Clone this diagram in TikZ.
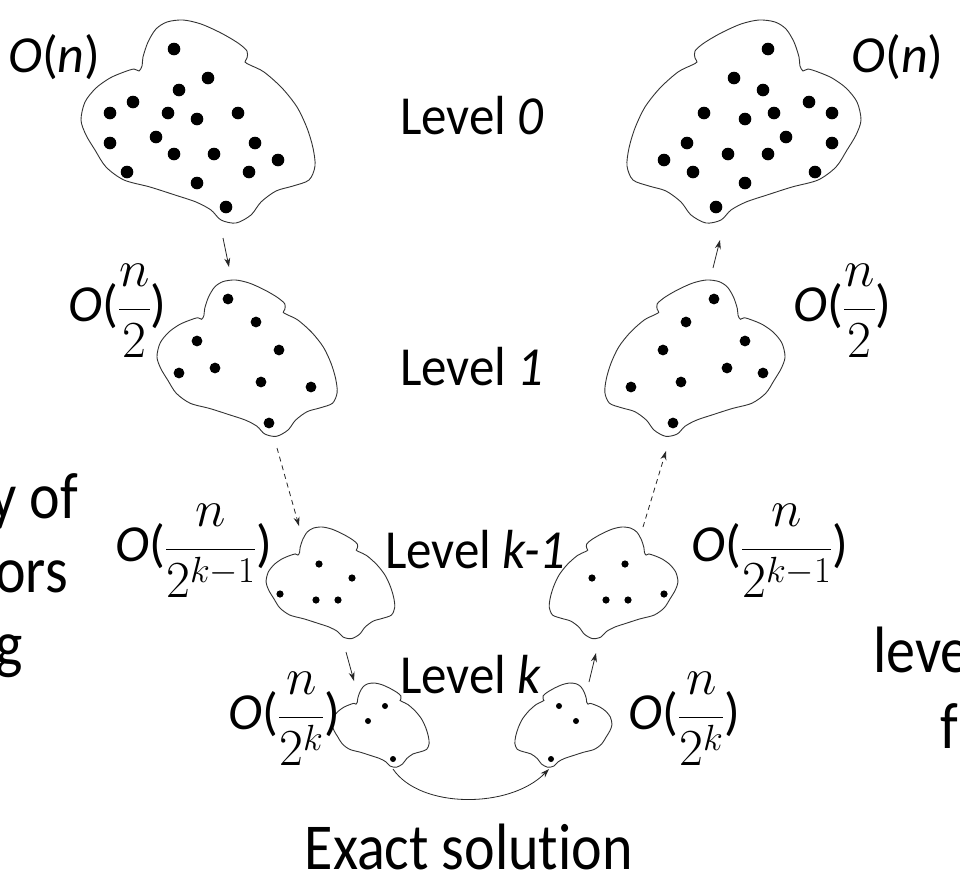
\documentclass[tikz,border=0pt]{standalone}
\usepackage{fix-cm}
\usepackage{fontspec}
\setmainfont{Carlito}[Ligatures=NoCommon]
\usetikzlibrary{arrows.meta}
\newcommand{\drawblob}[1]{\draw[blob,#1] plot[smooth cycle,tension=0.5] coordinates {(81,120) (85,102) (96,88) (110,78) (124,72) (134,69) (139,71) (142,66) (143,57) (148,42) (156,29) (167,22) (183,20) (201,24) (221,33) (238,43) (247,51) (247,58) (245,62) (250,65) (264,72) (282,88) (297,107) (307,128) (313,148) (315,166) (309,180) (293,186) (276,191) (261,202) (251,215) (236,223) (221,220) (211,210) (196,202) (175,195) (150,187) (124,180) (106,167) (95,150) (86,135)};}
\newcommand{\tallA}[1]{\scalebox{1}[1.08]{#1}}
\newcommand{\tallB}[1]{\scalebox{1}[1.13]{#1}}
\begin{document}
\begin{tikzpicture}[x=1pt,y=-1pt,
  blob/.style={draw=black!80,line width=0.9pt},
  arr/.style={draw=black!85,line width=0.8pt,-{Stealth[length=9pt,width=6pt]}},
  darr/.style={arr,dash pattern=on 5pt off 4pt},
  lvl/.style={font=\fontsize{51}{60}\selectfont,inner sep=0pt},
  olab/.style={font=\fontsize{52}{60}\selectfont,inner sep=0pt},
  big/.style={font=\fontsize{58}{70}\selectfont,inner sep=0pt}]
\fill[white] (0,0) rectangle (960,879);
\useasboundingbox (0,0) rectangle (960,879);
\clip (0,0) rectangle (960,879);
% blobs
\drawblob{}
\drawblob{shift={(942,0)},xscale=-1}
\drawblob{shift={(94.6,264.6)},scale=0.77}
\drawblob{shift={(847.4,264.6)},xscale=-0.77,yscale=0.77}
\drawblob{shift={(221.5,516)},scale=0.55}
\drawblob{shift={(722.5,516)},xscale=-0.55,yscale=0.55}
\drawblob{shift={(298.4,674.7)},scale=0.415}
\drawblob{shift={(645.6,674.7)},xscale=-0.415,yscale=0.415}
% dots level 0
\foreach \a/\b in {174/49,208/78,179/90,133/102,110/113,168/113,197/119,238/113,110/143,156/137,255/143,174/154,214/154,278/160,127/172,249/172,197/183,226/207}{
  \fill (\a,\b) circle (6.3pt);
  \fill (942-\a,\b) circle (6.3pt);}
% dots level 1
\foreach \a/\b in {228/299,256/322,197/341,279/350,179/373,215/368,261/382,311/387,269/423}{
  \fill (\a,\b) circle (5.4pt);
  \fill (942-\a,\b) circle (5.4pt);}
% dots level k-1
\foreach \a/\b in {319/564,352/578,280/594,316/600,338/600}{
  \fill (\a,\b) circle (3.6pt);
  \fill (944-\a,\b) circle (3.6pt);}
% dots level k
\foreach \a/\b in {385/706,368/721,393/759}{
  \fill (\a,\b) circle (3pt);
  \fill (944-\a,\b) circle (3pt);}
% arrows
\coordinate (a1s) at (223,238); \coordinate (a1e) at (229,267);
\coordinate (a2s) at (277,448); \coordinate (a2e) at (299,526);
\coordinate (a3s) at (346,652); \coordinate (a3e) at (354,681);
\coordinate (a4s) at (393,769); \coordinate (a4e) at (549,769);
\coordinate (a5s) at (589,682); \coordinate (a5e) at (596,653);
\coordinate (a6s) at (643,527); \coordinate (a6e) at (666,451);
\coordinate (a7s) at (713,268); \coordinate (a7e) at (720,240);
\draw[arr] (a1s) -- (a1e);
\draw[darr] (a2s) -- (a2e);
\draw[arr] (a3s) -- (a3e);
\draw[arr] (a4s) .. controls (420,809) and (510,809) .. (a4e);
\draw[arr] (a5s) -- (a5e);
\draw[darr] (a6s) -- (a6e);
\draw[arr] (a7s) -- (a7e);
% level labels
\node[lvl,anchor=base west] (L0) at (400,134) {\tallA{Level \textit{0}}};
\node[lvl,anchor=base west] (L1) at (400,385) {\tallA{Level \textit{1}}};
\node[lvl,anchor=base west] (Lk1) at (385,568) {\tallA{Level \textit{k-1}}};
\node[lvl,anchor=base west] (Lk) at (400,693) {\tallA{Level \textit{k}}};
% complexity labels
\node[olab,anchor=west] (o0L) at (8,57) {\textit{O}(\textit{n})};
\node[olab,anchor=west] (o0R) at (851,57) {\textit{O}(\textit{n})};
\node[olab,anchor=west] (o1L) at (68,311) {\textit{O}(${\displaystyle\frac{n}{2}}$)};
\node[olab,anchor=west] (o1R) at (793,311) {\textit{O}(${\displaystyle\frac{n}{2}}$)};
\node[olab,anchor=west] (ok1L) at (115,551) {\textit{O}(${\displaystyle\frac{n}{2^{k-1}}}$)};
\node[olab,anchor=west] (ok1R) at (691,551) {\textit{O}(${\displaystyle\frac{n}{2^{k-1}}}$)};
\node[olab,anchor=west] (okL) at (228,719) {\textit{O}(${\displaystyle\frac{n}{2^{k}}}$)};
\node[olab,anchor=west] (okR) at (628,719) {\textit{O}(${\displaystyle\frac{n}{2^{k}}}$)};
% bottom text
\node[big,anchor=base east] (ex) at (633,869) {\tallB{Exact solution}};
% cut-off side texts
\node[big,anchor=base east] (c1) at (78,518) {\tallB{y of}};
\node[big,anchor=base east] (c2) at (68,592) {\tallB{ors}};
\node[big,anchor=base east] (c3) at (23,666) {\tallB{g}};
\node[big,anchor=base west] (c4) at (873,672) {\tallB{leve}};
\node[big,anchor=base west] (c5) at (940,748) {\tallB{f}};
\end{tikzpicture}
\end{document}
